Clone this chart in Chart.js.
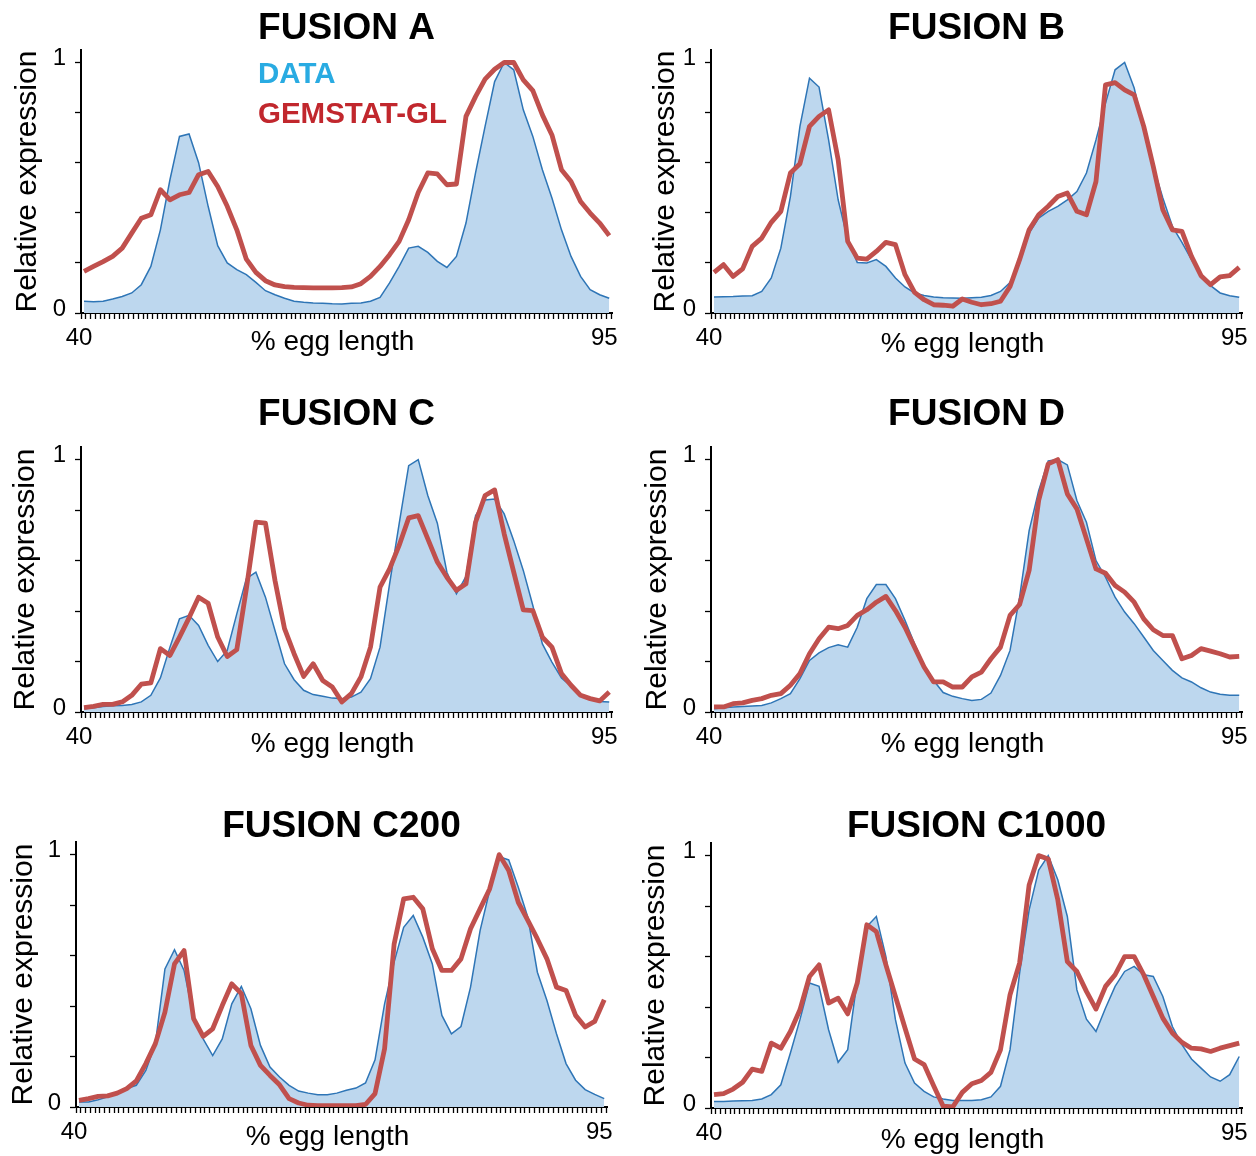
<!DOCTYPE html>
<html>
<head>
<meta charset="utf-8">
<script src="https://cdn.jsdelivr.net/npm/chart.js@4.4.1/dist/chart.umd.min.js"></script>
<style>
  html, body { margin: 0; padding: 0; background: #ffffff; }
  #wrap { position: relative; width: 1256px; height: 1156px; overflow: hidden; background: #ffffff; }
  #wrap canvas { position: absolute; }
</style>
</head>
<body>
<div id="wrap"></div>
<script>
// ---------- data ----------
const EGG_LENGTH = [40, 41, 42, 43, 44, 45, 46, 47, 48, 49, 50, 51, 52, 53, 54, 55, 56, 57, 58, 59,
  60, 61, 62, 63, 64, 65, 66, 67, 68, 69, 70, 71, 72, 73, 74, 75, 76, 77, 78, 79,
  80, 81, 82, 83, 84, 85, 86, 87, 88, 89, 90, 91, 92, 93, 94, 95];
const X_TICK_LABELS = [40, 95];
const Y_TICK_LABELS = [0, 1];
const PANEL_TITLES = ['FUSION A', 'FUSION B', 'FUSION C', 'FUSION D', 'FUSION C200', 'FUSION C1000'];
const LEGEND_LABELS = ['DATA', 'GEMSTAT-GL'];
const X_AXIS_TITLE = '% egg length';
const Y_AXIS_TITLE = 'Relative expression';

const FUSION_A_DATA = [0.047, 0.045, 0.047, 0.056, 0.066, 0.08, 0.113, 0.186, 0.332, 0.532, 0.705, 0.715, 0.6, 0.426, 0.269, 0.2, 0.173, 0.153, 0.122, 0.089, 0.073, 0.059, 0.047, 0.043, 0.04, 0.039, 0.037, 0.036, 0.039, 0.04, 0.047, 0.0625, 0.12, 0.186, 0.259, 0.266, 0.242, 0.206, 0.182, 0.226, 0.359, 0.559, 0.745, 0.924, 1.0, 0.971, 0.811, 0.705, 0.572, 0.459, 0.332, 0.226, 0.146, 0.093, 0.073, 0.059];
const FUSION_A_MODEL = [0.166, 0.186, 0.205, 0.226, 0.259, 0.319, 0.378, 0.392, 0.492, 0.452, 0.472, 0.481, 0.552, 0.565, 0.505, 0.426, 0.332, 0.215, 0.162, 0.129, 0.112, 0.105, 0.102, 0.101, 0.1, 0.1, 0.1, 0.101, 0.104, 0.117, 0.146, 0.186, 0.233, 0.286, 0.372, 0.481, 0.559, 0.555, 0.512, 0.515, 0.785, 0.864, 0.934, 0.973, 1.0, 1.0, 0.931, 0.888, 0.791, 0.711, 0.572, 0.525, 0.445, 0.399, 0.359, 0.309];

const FUSION_B_DATA = [0.064, 0.065, 0.066, 0.068, 0.069, 0.086, 0.14, 0.259, 0.465, 0.745, 0.9375, 0.902, 0.691, 0.452, 0.293, 0.202, 0.2, 0.213, 0.186, 0.14, 0.104, 0.08, 0.07, 0.064, 0.061, 0.06, 0.059, 0.061, 0.0625, 0.07, 0.086, 0.122, 0.2, 0.319, 0.379, 0.406, 0.426, 0.452, 0.485, 0.559, 0.691, 0.838, 0.971, 1.0, 0.898, 0.731, 0.585, 0.459, 0.346, 0.282, 0.213, 0.149, 0.109, 0.08, 0.069, 0.0625];
const FUSION_B_MODEL = [0.162, 0.193, 0.146, 0.176, 0.266, 0.299, 0.362, 0.406, 0.559, 0.596, 0.745, 0.785, 0.811, 0.612, 0.286, 0.219, 0.215, 0.246, 0.282, 0.273, 0.153, 0.082, 0.053, 0.033, 0.031, 0.027, 0.056, 0.043, 0.033, 0.037, 0.047, 0.106, 0.213, 0.332, 0.392, 0.426, 0.465, 0.479, 0.406, 0.392, 0.525, 0.911, 0.92, 0.891, 0.871, 0.745, 0.585, 0.412, 0.332, 0.326, 0.226, 0.149, 0.113, 0.144, 0.149, 0.182];

const FUSION_C_DATA = [0.013, 0.017, 0.022, 0.025, 0.026, 0.03, 0.04, 0.066, 0.135, 0.257, 0.369, 0.383, 0.343, 0.264, 0.2, 0.244, 0.389, 0.528, 0.554, 0.455, 0.323, 0.191, 0.128, 0.086, 0.069, 0.062, 0.055, 0.053, 0.059, 0.079, 0.132, 0.257, 0.508, 0.745, 0.976, 1.0, 0.858, 0.748, 0.554, 0.468, 0.537, 0.778, 0.84, 0.844, 0.785, 0.679, 0.561, 0.422, 0.27, 0.198, 0.135, 0.102, 0.066, 0.049, 0.042, 0.04];
const FUSION_C_MODEL = [0.017, 0.022, 0.03, 0.03, 0.04, 0.066, 0.11, 0.115, 0.251, 0.224, 0.297, 0.373, 0.455, 0.431, 0.297, 0.22, 0.247, 0.488, 0.752, 0.748, 0.521, 0.33, 0.231, 0.141, 0.191, 0.125, 0.099, 0.04, 0.073, 0.139, 0.257, 0.495, 0.567, 0.66, 0.769, 0.778, 0.686, 0.594, 0.534, 0.482, 0.508, 0.752, 0.858, 0.88, 0.706, 0.554, 0.405, 0.402, 0.297, 0.257, 0.152, 0.106, 0.066, 0.053, 0.044, 0.079];

const FUSION_D_DATA = [0.013, 0.017, 0.02, 0.022, 0.024, 0.026, 0.036, 0.053, 0.073, 0.132, 0.204, 0.234, 0.255, 0.266, 0.257, 0.336, 0.449, 0.505, 0.505, 0.449, 0.363, 0.27, 0.185, 0.125, 0.077, 0.062, 0.053, 0.046, 0.05, 0.075, 0.145, 0.244, 0.455, 0.719, 0.877, 0.995, 1.0, 0.979, 0.838, 0.752, 0.6, 0.534, 0.455, 0.396, 0.35, 0.297, 0.244, 0.204, 0.165, 0.135, 0.119, 0.096, 0.079, 0.07, 0.066, 0.066];
const FUSION_D_MODEL = [0.02, 0.02, 0.033, 0.036, 0.046, 0.053, 0.066, 0.073, 0.106, 0.152, 0.231, 0.29, 0.336, 0.33, 0.343, 0.383, 0.405, 0.435, 0.458, 0.402, 0.336, 0.257, 0.178, 0.119, 0.119, 0.099, 0.099, 0.139, 0.158, 0.211, 0.257, 0.383, 0.426, 0.561, 0.838, 0.983, 1.0, 0.864, 0.805, 0.686, 0.567, 0.55, 0.501, 0.475, 0.435, 0.369, 0.326, 0.303, 0.303, 0.211, 0.224, 0.251, 0.241, 0.231, 0.218, 0.22];

const FUSION_C200_DATA = [0.02, 0.02, 0.029, 0.04, 0.055, 0.073, 0.086, 0.145, 0.251, 0.547, 0.623, 0.541, 0.356, 0.27, 0.204, 0.27, 0.409, 0.478, 0.389, 0.244, 0.158, 0.119, 0.086, 0.063, 0.055, 0.049, 0.049, 0.055, 0.066, 0.075, 0.095, 0.187, 0.409, 0.574, 0.712, 0.759, 0.673, 0.567, 0.363, 0.29, 0.319, 0.475, 0.699, 0.858, 0.992, 0.979, 0.871, 0.752, 0.534, 0.422, 0.29, 0.172, 0.106, 0.069, 0.05, 0.033];
const FUSION_C200_MODEL = [0.026, 0.033, 0.042, 0.044, 0.055, 0.073, 0.103, 0.172, 0.251, 0.376, 0.567, 0.62, 0.35, 0.28, 0.31, 0.402, 0.488, 0.449, 0.244, 0.165, 0.125, 0.088, 0.033, 0.016, 0.007, 0.005, 0.005, 0.005, 0.005, 0.005, 0.01, 0.053, 0.231, 0.646, 0.825, 0.831, 0.785, 0.627, 0.541, 0.541, 0.587, 0.706, 0.785, 0.864, 1.0, 0.937, 0.811, 0.739, 0.666, 0.587, 0.475, 0.462, 0.363, 0.317, 0.339, 0.425];

const FUSION_C1000_DATA = [0.026, 0.026, 0.028, 0.029, 0.03, 0.036, 0.053, 0.092, 0.218, 0.35, 0.495, 0.482, 0.31, 0.181, 0.231, 0.508, 0.719, 0.759, 0.6, 0.35, 0.178, 0.099, 0.066, 0.044, 0.036, 0.03, 0.03, 0.03, 0.033, 0.044, 0.086, 0.231, 0.534, 0.785, 0.943, 1.0, 0.904, 0.759, 0.468, 0.352, 0.303, 0.396, 0.482, 0.541, 0.561, 0.528, 0.521, 0.442, 0.323, 0.251, 0.194, 0.158, 0.123, 0.106, 0.132, 0.204];
const FUSION_C1000_MODEL = [0.053, 0.057, 0.075, 0.102, 0.154, 0.145, 0.257, 0.237, 0.303, 0.389, 0.521, 0.567, 0.416, 0.435, 0.373, 0.495, 0.726, 0.699, 0.567, 0.442, 0.317, 0.194, 0.172, 0.088, 0.007, 0.004, 0.062, 0.096, 0.109, 0.141, 0.231, 0.449, 0.574, 0.884, 1.0, 0.987, 0.825, 0.58, 0.541, 0.462, 0.392, 0.482, 0.528, 0.6, 0.6, 0.528, 0.442, 0.356, 0.297, 0.26, 0.237, 0.234, 0.224, 0.237, 0.247, 0.257];

// ---------- styling & layout ----------
const FONT = '"Liberation Sans", Arial, Helvetica, sans-serif';
const COLORS = {
  dataLine: '#2E75B6', dataFill: '#BDD7EE', model: '#C0504D',
  legendData: '#29ABE2', legendModel: '#C1272D', ink: '#000000'
};
const X_MIN = 39.686, X_MAX = 95.29, Y_MAX = 1.05;
const Y_TICK_POS = [0, 0.2, 0.4, 0.6, 0.8, 1];
const CANVAS_W = 631, Y_AXIS_W = 80, X_AXIS_H = 48, RIGHT_PAD = 20;
const TITLE_SIZE = 37, TITLE_PAD_TOP = 2.5;

const PANELS = [
  { title: PANEL_TITLES[0], data: FUSION_A_DATA, model: FUSION_A_MODEL, legend: true },
  { title: PANEL_TITLES[1], data: FUSION_B_DATA, model: FUSION_B_MODEL },
  { title: PANEL_TITLES[2], data: FUSION_C_DATA, model: FUSION_C_MODEL },
  { title: PANEL_TITLES[3], data: FUSION_D_DATA, model: FUSION_D_MODEL },
  { title: PANEL_TITLES[4], data: FUSION_C200_DATA, model: FUSION_C200_MODEL },
  { title: PANEL_TITLES[5], data: FUSION_C1000_DATA, model: FUSION_C1000_MODEL }
];
const LAYOUT = [
  { left: 1,   top: 8,   bottom: 313,  plotTop: 50,  yTitleX: 28,  xTitleBase: 37 },
  { left: 631, top: 8,   bottom: 313,  plotTop: 50,  yTitleX: 666, xTitleBase: 39 },
  { left: 1,   top: 394, bottom: 712,  plotTop: 447, yTitleX: 26,  xTitleBase: 39.5 },
  { left: 631, top: 394, bottom: 712,  plotTop: 447, yTitleX: 658, xTitleBase: 39.5 },
  { left: -4,  top: 806, bottom: 1107, plotTop: 842, yTitleX: 24,  xTitleBase: 38 },
  { left: 631, top: 806, bottom: 1108, plotTop: 843, yTitleX: 656, xTitleBase: 40 }
];

const X_TICK_POS = (() => {
  const t = [];
  for (let i = 0; X_MIN + i * 0.5 <= X_MAX + 1e-9; i++) t.push(+(X_MIN + i * 0.5).toFixed(3));
  X_TICK_LABELS.forEach(v => t.push(v));
  return t.sort((a, b) => a - b);
})();

function textPlugin(lay, showLegend) {
  return {
    id: 'panelText',
    afterDraw(chart) {
      const { ctx, chartArea: a } = chart;
      ctx.save();
      ctx.fillStyle = COLORS.ink;
      ctx.font = '28px ' + FONT;
      ctx.textAlign = 'center';
      ctx.textBaseline = 'alphabetic';
      ctx.fillText(X_AXIS_TITLE, (a.left + a.right) / 2 - 14, a.bottom + lay.xTitleBase);
      if (showLegend) {
        ctx.textAlign = 'left';
        ctx.font = 'bold 29.5px ' + FONT;
        ctx.fillStyle = COLORS.legendData;
        ctx.fillText(LEGEND_LABELS[0], a.left + 177, a.top + 33);
        ctx.fillStyle = COLORS.legendModel;
        ctx.fillText(LEGEND_LABELS[1], a.left + 177, a.top + 73);
      }
      ctx.restore();
    }
  };
}

const wrap = document.getElementById('wrap');
PANELS.forEach((panel, idx) => {
  const lay = LAYOUT[idx];
  const h = lay.bottom + X_AXIS_H - lay.top;
  const canvas = document.createElement('canvas');
  canvas.width = CANVAS_W; canvas.height = h;
  canvas.style.left = lay.left + 'px'; canvas.style.top = lay.top + 'px';
  canvas.style.width = CANVAS_W + 'px'; canvas.style.height = h + 'px';
  wrap.appendChild(canvas);

  new Chart(canvas, {
    type: 'line',
    data: {
      datasets: [
        {
          label: LEGEND_LABELS[1],
          data: EGG_LENGTH.map((x, i) => ({ x, y: panel.model[i] })),
          borderColor: COLORS.model, borderWidth: 4.8, borderJoinStyle: 'round',
          fill: false, pointRadius: 0, tension: 0, order: 0
        },
        {
          label: LEGEND_LABELS[0],
          data: EGG_LENGTH.map((x, i) => ({ x, y: panel.data[i] })),
          borderColor: COLORS.dataLine, backgroundColor: COLORS.dataFill, borderWidth: 1.5,
          fill: 'origin', pointRadius: 0, tension: 0, order: 1
        }
      ]
    },
    options: {
      responsive: false, animation: false, devicePixelRatio: 1, events: [],
      layout: { padding: { left: 0, top: 0, right: RIGHT_PAD, bottom: 0 } },
      plugins: {
        legend: { display: false },
        tooltip: { enabled: false },
        title: {
          display: true, text: panel.title, fullSize: false, color: COLORS.ink,
          font: { family: FONT, size: TITLE_SIZE, weight: 'bold', lineHeight: 1 },
          padding: { top: TITLE_PAD_TOP, bottom: lay.plotTop - lay.top - TITLE_SIZE - TITLE_PAD_TOP }
        }
      },
      scales: {
        x: {
          type: 'linear', min: X_MIN, max: X_MAX,
          afterBuildTicks: s => { s.ticks = X_TICK_POS.map(v => ({ value: v })); },
          afterFit: s => { s.height = X_AXIS_H; },
          ticks: {
            autoSkip: false, maxRotation: 0, minRotation: 0, padding: 4.6, labelOffset: -5,
            color: COLORS.ink, font: { family: FONT, size: 24, lineHeight: 1.2 },
            callback: v => X_TICK_LABELS.includes(v) ? String(v) : ''
          },
          grid: {
            display: true, drawOnChartArea: false, drawTicks: true, tickLength: 6, tickWidth: 1.3,
            tickColor: c => (c.tick && X_TICK_LABELS.includes(c.tick.value)) ? 'rgba(0,0,0,0)' : COLORS.ink
          },
          border: { display: true, color: COLORS.ink, width: 2 }
        },
        y: {
          type: 'linear', min: 0, max: Y_MAX, position: 'left',
          afterBuildTicks: s => { s.ticks = Y_TICK_POS.map(v => ({ value: v })); },
          afterFit: s => { s.width = Y_AXIS_W; },
          ticks: {
            padding: 9, labelOffset: -4, color: COLORS.ink,
            font: { family: FONT, size: 24 },
            callback: v => Y_TICK_LABELS.includes(v) ? String(v) : ''
          },
          grid: { display: true, drawOnChartArea: false, drawTicks: true, tickLength: 6, tickWidth: 1.3, tickColor: COLORS.ink },
          border: { display: true, color: COLORS.ink, width: 2 },
          title: {
            display: true, text: Y_AXIS_TITLE, color: COLORS.ink,
            font: { family: FONT, size: 30, lineHeight: 1 },
            padding: { top: lay.yTitleX - lay.left - 15, bottom: 0 }
          }
        }
      }
    },
    plugins: [textPlugin(lay, !!panel.legend)]
  });
});
</script>
</body>
</html>
